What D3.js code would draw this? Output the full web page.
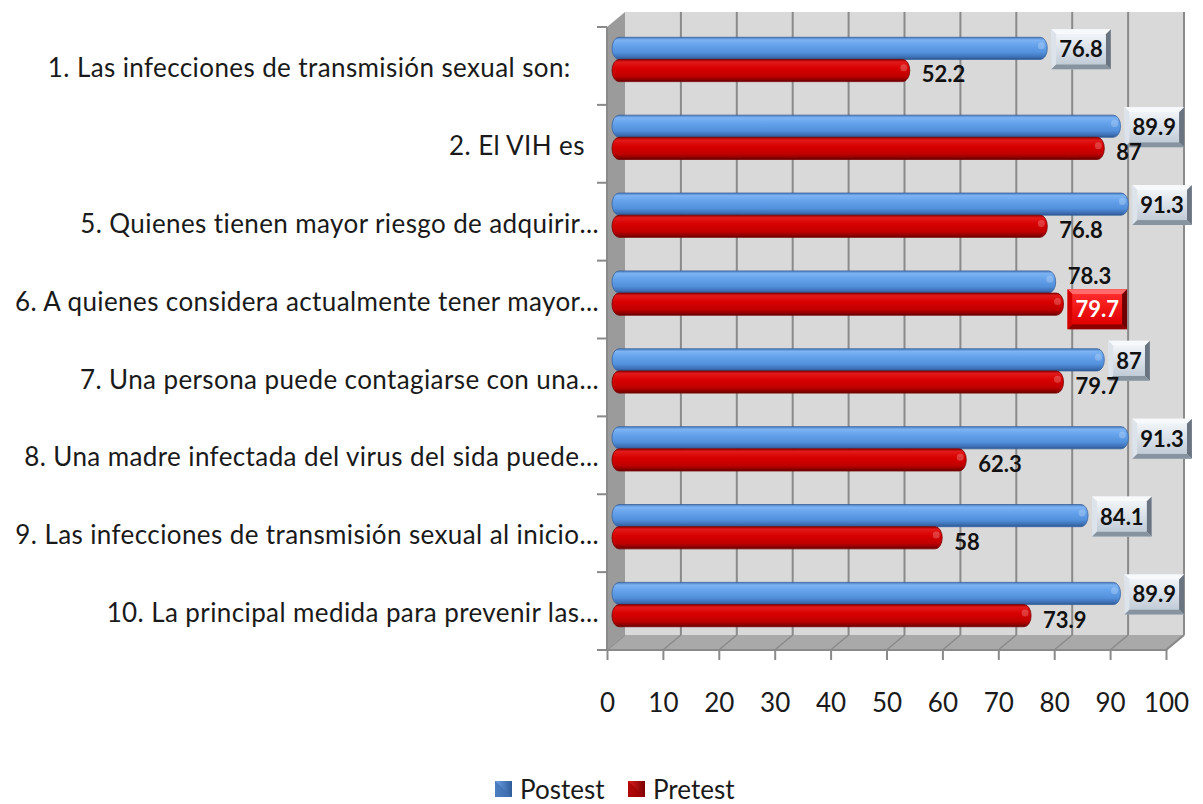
<!DOCTYPE html>
<html><head><meta charset="utf-8">
<script src="https://cdn.jsdelivr.net/npm/d3@7"></script>
<style>
html,body{margin:0;padding:0;background:#fff;}
svg{display:block;}
text{white-space:pre;}
</style></head>
<body>
<svg id="chart" width="1203" height="804"></svg>
<script>
// ---------- data ----------
const categories = [
  "1. Las infecciones de transmisión sexual son:    ",
  "2. El VIH es  ",
  "5. Quienes tienen mayor riesgo de adquirir...",
  "6. A quienes considera actualmente tener mayor...",
  "7. Una persona puede contagiarse con una...",
  "8. Una madre infectada del virus del sida puede...",
  "9. Las infecciones de transmisión sexual al inicio...",
  "10. La principal medida para prevenir las..."
];
const seriesNames = ["Postest", "Pretest"];
const postest = [76.8, 89.9, 91.3, 78.3, 87, 91.3, 84.1, 89.9];
const pretest = [52.2, 87, 76.8, 79.7, 79.7, 62.3, 58, 73.9];
const xTickValues = [0, 10, 20, 30, 40, 50, 60, 70, 80, 90, 100];

// ---------- layout ----------
const svg = d3.select("#chart");
const depth = {dx: 18, dy: 15};
const front = {left: 607, right: 1166, top: 27, bottom: 650};
const x = d3.scaleLinear().domain([0, 100]).range([front.left, front.right]);
const y = d3.scaleBand().domain(categories).range([front.top, front.bottom]).padding(0);
const ySub = d3.scaleBand().domain(seriesNames).range([0, y.bandwidth()]).paddingInner(0).paddingOuter(0.755);
const xMid = v => x(v) + depth.dx / 2;
const xBack = v => x(v) + depth.dx;
const gridColor = "#8a8a8a";
const FONT = "Lato, 'Open Sans', sans-serif";

const defs = svg.append("defs");
function linGrad(id, stops, vertical = true) {
  const g = defs.append("linearGradient").attr("id", id)
    .attr("x1", 0).attr("y1", 0).attr("x2", vertical ? 0 : 1).attr("y2", vertical ? 1 : 0);
  stops.forEach(s => g.append("stop").attr("offset", s[0]).attr("stop-color", s[1]));
}
linGrad("gBlue", [[0, "#4a7cc0"], [0.12, "#7db3f3"], [0.35, "#66a3ec"], [0.7, "#5290dc"], [0.9, "#3d6fb3"], [1, "#2b5590"]]);
linGrad("gRed", [[0, "#9a0000"], [0.12, "#e21a1a"], [0.4, "#d80000"], [0.75, "#c00000"], [0.92, "#8a0000"], [1, "#600000"]]);
linGrad("gBoxFace", [[0, "#f0f4f8"], [1, "#c2ccd7"]]);
linGrad("gRedFace", [[0, "#ff2a2a"], [1, "#e00000"]]);
linGrad("gLegBlue", [[0, "#6fa3e6"], [1, "#2e5c9a"]], false);
linGrad("gLegRed", [[0, "#e02020"], [1, "#7a0000"]], false);

// ---------- walls ----------
const backTop = front.top - depth.dy, backBottom = front.bottom - depth.dy;
svg.append("rect").attr("x", xBack(0)).attr("y", backTop)
  .attr("width", xBack(100) - xBack(0)).attr("height", backBottom - backTop)
  .attr("fill", "#d9d9d9");
svg.append("g").selectAll("line").data(xTickValues.slice(1)).join("line")
  .attr("x1", d => xBack(d)).attr("x2", d => xBack(d))
  .attr("y1", backTop).attr("y2", backBottom)
  .attr("stroke", gridColor).attr("stroke-width", 2);
svg.append("polygon")
  .attr("points", [[x(0), front.bottom], [x(100), front.bottom], [xBack(100), backBottom], [xBack(0), backBottom]].join(" "))
  .attr("fill", "#a9a9a9");
svg.append("g").selectAll("line").data(xTickValues).join("line")
  .attr("x1", d => x(d)).attr("x2", d => xBack(d))
  .attr("y1", front.bottom).attr("y2", backBottom)
  .attr("stroke", gridColor).attr("stroke-width", 1.5);
svg.append("polygon")
  .attr("points", [[x(0), front.top], [xBack(0), backTop], [xBack(0), backBottom], [x(0), front.bottom]].join(" "))
  .attr("fill", "#9b9b9b");

// ---------- bars ----------
const barData = [];
categories.forEach((c, i) => {
  const vals = [postest[i], pretest[i]];
  seriesNames.forEach((s, k) => barData.push({c, i, s, k, v: vals[k]}));
});
const barY = d => y(d.c) + ySub(d.s) - depth.dy / 2 + 1;
const barH = ySub.bandwidth();
const bars = svg.append("g");
bars.selectAll("rect").data(barData).join("rect")
  .attr("x", xMid(0) - 4).attr("y", barY)
  .attr("width", d => xMid(d.v) + 2 - (xMid(0) - 4)).attr("height", barH)
  .attr("rx", 7).attr("ry", barH / 2)
  .attr("fill", d => d.k === 0 ? "url(#gBlue)" : "url(#gRed)")
  .attr("stroke", d => d.k === 0 ? "#3a64a0" : "#7a0000").attr("stroke-width", 0.8);
bars.selectAll("ellipse").data(barData).join("ellipse")
  .attr("cx", d => xMid(d.v) - 4).attr("cy", d => barY(d) + barH * 0.38)
  .attr("rx", 3.5).attr("ry", 3.5)
  .attr("fill", "#fff").attr("opacity", 0.22);

// ---------- axes ----------
const axisG = svg.append("g").attr("transform", `translate(0,${front.bottom})`)
  .call(d3.axisBottom(x).tickValues(xTickValues).tickSize(10).tickPadding(34).tickFormat(d3.format("d")));
axisG.select(".domain").attr("stroke", gridColor).attr("stroke-width", 2)
  .attr("d", `M${x(0) - 10},0H${x(100)}`);
axisG.selectAll(".tick line").attr("stroke", gridColor).attr("stroke-width", 2);
axisG.selectAll(".tick text").attr("font-family", FONT)
  .attr("font-size", 26).attr("fill", "#1a1a1a");
svg.append("line").attr("x1", x(100)).attr("y1", front.bottom).attr("x2", xBack(100)).attr("y2", backBottom)
  .attr("stroke", gridColor).attr("stroke-width", 2);

svg.append("line").attr("x1", x(0)).attr("x2", x(0)).attr("y1", front.top).attr("y2", front.bottom)
  .attr("stroke", gridColor).attr("stroke-width", 2);
const bounds = categories.map(c => y(c)).concat([front.bottom]);
svg.append("g").selectAll("line").data(bounds).join("line")
  .attr("x1", x(0) - 10).attr("x2", x(0)).attr("y1", d => d).attr("y2", d => d)
  .attr("stroke", gridColor).attr("stroke-width", 2);
svg.append("g").selectAll("text").data(categories).join("text")
  .attr("x", x(0) - 8).attr("y", d => y(d) + y.bandwidth() / 2 + 2)
  .attr("dy", "0.35em").attr("text-anchor", "end")
  .attr("font-family", FONT).attr("font-size", 26).attr("letter-spacing", 0.4)
  .attr("fill", "#1a1a1a").text(d => d);

// ---------- value labels ----------
const plainPost = [3];         // post labels without box
const highlightPre = [3];      // pre labels in red box
const labG = svg.append("g").attr("font-family", FONT)
  .attr("font-size", 22).attr("font-weight", "bold");
function bevelBox(g, bx, by, bw, bh, red) {
  const b = 5;
  const face = red ? "url(#gRedFace)" : "url(#gBoxFace)";
  const light = red ? "#ff6a6a" : "#f7f9fb";
  const mid = red ? "#d40000" : "#dde3ea";
  const dark = red ? "#8c0000" : "#8794a0";
  const darker = red ? "#700000" : "#697480";
  g.append("rect").attr("x", bx).attr("y", by).attr("width", bw).attr("height", bh).attr("fill", face);
  const P = pts => g.append("polygon").attr("points", pts.map(p => p.join(",")).join(" "));
  P([[bx, by], [bx + bw, by], [bx + bw - b, by + b], [bx + b, by + b]]).attr("fill", light);
  P([[bx, by], [bx + b, by + b], [bx + b, by + bh - b], [bx, by + bh]]).attr("fill", mid);
  P([[bx + bw, by], [bx + bw, by + bh], [bx + bw - b, by + bh - b], [bx + bw - b, by + b]]).attr("fill", darker);
  P([[bx, by + bh], [bx + b, by + bh - b], [bx + bw - b, by + bh - b], [bx + bw, by + bh]]).attr("fill", dark);
  g.append("rect").attr("x", bx + b).attr("y", by + b).attr("width", bw - 2 * b).attr("height", bh - 2 * b).attr("fill", face);
}
barData.forEach(d => {
  const end = xMid(d.v) + 2;
  const cy = barY(d) + barH / 2;
  const label = d3.format("")(d.v);
  const boxed = (d.k === 0 && !plainPost.includes(d.i)) || (d.k === 1 && highlightPre.includes(d.i));
  if (boxed) {
    const red = d.k === 1;
    const g = labG.append("g");
    const t = g.append("text").text(label);
    const tw = t.node().getComputedTextLength();
    t.remove();
    const bw = tw + 16, bh = 40;
    const bx = end + 4, by = cy - bh / 2 + (red ? 5 : 1);
    bevelBox(g, bx, by, bw, bh, red);
    g.append("text").text(label).attr("x", bx + bw / 2).attr("y", by + bh / 2).attr("dy", "0.36em")
      .attr("text-anchor", "middle").attr("fill", red ? "#fff" : "#111");
  } else {
    labG.append("text").text(label).attr("x", end + 12).attr("y", cy + (d.k === 0 ? -6 : 4))
      .attr("dy", "0.36em").attr("fill", "#111");
  }
});

// ---------- legend ----------
const legX = [495, 628];
const leg = svg.append("g").selectAll("g").data(seriesNames).join("g")
  .attr("transform", (d, i) => `translate(${legX[i]},781)`);
leg.append("rect").attr("width", 17).attr("height", 16)
  .attr("fill", (d, i) => i === 0 ? "url(#gLegBlue)" : "url(#gLegRed)");
leg.append("polygon").attr("points", "0,0 17,16 0,16")
  .attr("fill", (d, i) => i === 0 ? "#3e6fb0" : "#a00000").attr("opacity", 0.7);
leg.append("text").attr("x", 25).attr("y", 18)
  .attr("font-family", FONT).attr("font-size", 26)
  .attr("fill", "#1a1a1a").text(d => d);
</script>
</body></html>
